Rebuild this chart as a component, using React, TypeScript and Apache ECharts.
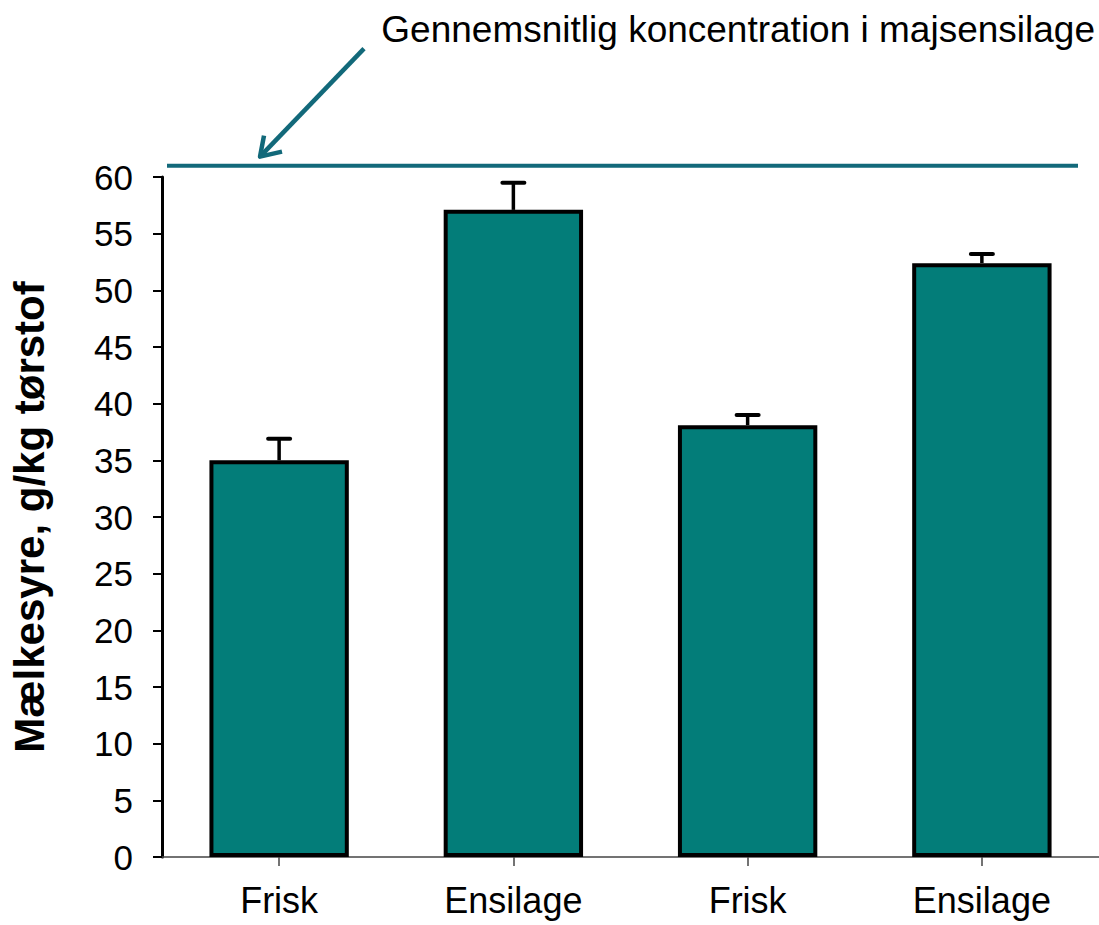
import React, { useEffect, useRef } from "react";
import * as echarts from "echarts";

const categories = ["Frisk", "Ensilage", "Frisk", "Ensilage"];
const meanValues = [35.0, 57.1, 38.1, 52.4];
const errorTops = [36.9, 59.5, 39.0, 53.2];
const averageSilage = 61.0;
const yTicks = [0, 5, 10, 15, 20, 25, 30, 35, 40, 45, 50, 55, 60];
const yAxisTitle = "Mælkesyre, g/kg tørstof";
const annotationText = "Gennemsnitlig koncentration i majsensilage";

const FONT = "'Liberation Sans', Arial, Helvetica, sans-serif";
const BAR_COLOR = "#037d79";
const LINE_COLOR = "#12697a";

export default function App() {
  const ref = useRef<HTMLDivElement>(null);

  useEffect(() => {
    if (!ref.current) return;
    const chart = echarts.init(ref.current, undefined, { renderer: "svg" });

    const errorData = categories.map((_, i) => [i, meanValues[i], errorTops[i]]);

    chart.setOption({
      animation: false,
      backgroundColor: "#ffffff",
      grid: { left: 156, top: 177, width: 944, height: 680, containLabel: false },
      xAxis: {
        type: "category",
        data: categories,
        axisLine: { show: true, lineStyle: { color: "#444", width: 1.5 } },
        axisTick: { show: true, alignWithLabel: true, length: 9, lineStyle: { color: "#444", width: 1.5 } },
        axisLabel: { color: "#000", fontSize: 36, fontFamily: FONT, margin: 25 },
        splitLine: { show: false },
      },
      yAxis: {
        type: "value",
        min: yTicks[0],
        max: yTicks[yTicks.length - 1],
        interval: yTicks[1] - yTicks[0],
        name: yAxisTitle,
        nameLocation: "middle",
        nameGap: 112,
        nameRotate: 90,
        nameTextStyle: { color: "#000", fontSize: 42, fontWeight: "bold", fontFamily: FONT },
        axisLine: { show: true, lineStyle: { color: "#000", width: 3 } },
        axisTick: { show: true, inside: false, length: 9, lineStyle: { color: "#000", width: 2 } },
        axisLabel: { color: "#000", fontSize: 35, fontFamily: FONT, margin: 29 },
        splitLine: { show: false },
      },
      graphic: [
        {
          type: "text",
          right: 4,
          top: 11,
          style: { text: annotationText, fill: "#000", font: `37px ${FONT}` },
        },
      ],
      series: [
        {
          type: "custom",
          name: "err",
          z: 1,
          data: errorData,
          renderItem: (params: any, api: any) => {
            const base = api.coord([api.value(0), api.value(1)]);
            const top = api.coord([api.value(0), api.value(2)]);
            const half = 11;
            return {
              type: "group",
              children: [
                {
                  type: "line",
                  shape: { x1: base[0], y1: base[1], x2: top[0], y2: top[1] },
                  style: { stroke: "#000", lineWidth: 3.5 },
                },
                {
                  type: "line",
                  shape: { x1: top[0] - half, y1: top[1], x2: top[0] + half, y2: top[1] },
                  style: { stroke: "#000", lineWidth: 4, lineCap: "round" },
                },
              ],
            };
          },
        },
        {
          type: "bar",
          z: 2,
          data: meanValues,
          barWidth: "59.5%",
          itemStyle: { color: BAR_COLOR, borderColor: "#000", borderWidth: 4 },
        },
        {
          type: "custom",
          name: "avg",
          z: 3,
          clip: false,
          data: [[0, averageSilage]],
          renderItem: (params: any, api: any) => {
            const cs = params.coordSys;
            const y = api.coord([0, api.value(1)])[1];
            const x1 = cs.x + 5;
            const x2 = cs.x + cs.width - 21;
            const tipX = x1 + 93;
            const tipY = y - 9;
            return {
              type: "group",
              children: [
                {
                  type: "line",
                  shape: { x1, y1: y, x2, y2: y },
                  style: { stroke: LINE_COLOR, lineWidth: 4 },
                },
                {
                  type: "line",
                  shape: { x1: tipX + 104, y1: tipY - 108, x2: tipX + 1, y2: tipY - 1 },
                  style: { stroke: LINE_COLOR, lineWidth: 4.5 },
                },
                {
                  type: "polyline",
                  shape: { points: [[tipX + 4, tipY - 21], [tipX, tipY], [tipX + 22, tipY - 5]] },
                  style: { stroke: LINE_COLOR, lineWidth: 4.5, fill: "none", lineJoin: "round" },
                },
              ],
            };
          },
        },
      ],
    });

    return () => chart.dispose();
  }, []);

  return (
    <div
      ref={ref}
      style={{ position: "fixed", left: 0, top: 0, width: 1099, height: 925, background: "#fff" }}
    />
  );
}
